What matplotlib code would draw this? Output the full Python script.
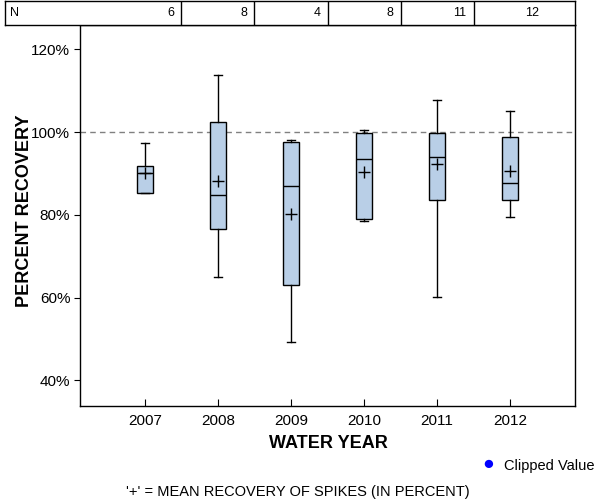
import matplotlib
matplotlib.use("Agg")
import matplotlib.pyplot as plt
from matplotlib.ticker import FuncFormatter

plt.rcParams['font.family'] = ['Liberation Sans', 'DejaVu Sans']

years = [2007, 2008, 2009, 2010, 2011, 2012]
counts = [6, 8, 4, 8, 11, 12]
whislo = [85.2, 65.1, 49.3, 78.6, 60.2, 79.6]
q1 = [85.2, 76.7, 63.1, 79.1, 83.7, 83.5]
med = [90.2, 84.7, 86.9, 93.5, 94.1, 87.6]
q3 = [91.7, 102.4, 97.5, 99.7, 99.9, 98.9]
whishi = [97.3, 113.8, 98.2, 100.6, 107.7, 105.2]
means = [90.1, 88.3, 80.3, 90.3, 92.3, 90.7]
yticks = [40, 60, 80, 100, 120]

W, H = 600, 500
fig = plt.figure(figsize=(6, 5), dpi=100)
ax = fig.add_axes([80 / W, 1 - 406 / H, 495 / W, 381 / H])

stats = []
for i, y in enumerate(years):
    stats.append(dict(label=str(y), whislo=whislo[i], q1=q1[i], med=med[i],
                      q3=q3[i], whishi=whishi[i], mean=means[i], fliers=[]))

ax.bxp(stats, positions=years, widths=0.21, capwidths=0.11, patch_artist=True,
       showmeans=True,
       boxprops=dict(facecolor='#b9cfe7', edgecolor='black', linewidth=1.0),
       medianprops=dict(color='black', linewidth=1.0),
       whiskerprops=dict(color='black', linewidth=1.0),
       capprops=dict(color='black', linewidth=1.0),
       meanprops=dict(marker='+', markeredgecolor='black', markersize=9, markeredgewidth=1.0))

ax.axhline(100, color='#808080', linestyle=(0, (4, 3)), linewidth=1.0, zorder=0)

ax.set_xlim(2006.11, 2012.89)
ax.set_ylim(33.8, 125.9)
ax.set_xticks(years)
ax.set_xticklabels([str(y) for y in years])
ax.set_yticks(yticks)
ax.yaxis.set_major_formatter(FuncFormatter(lambda v, p: f"{v:.0f}%"))
ax.tick_params(axis='y', direction='out', length=4, labelsize=11, pad=3)
ax.tick_params(axis='x', direction='in', length=5, labelsize=11, pad=6)
for s in ['left', 'bottom', 'right', 'top']:
    ax.spines[s].set_linewidth(1.0)

fig.text(328 / W, 1 - 443 / H, 'WATER YEAR', fontsize=13, fontweight='bold',
         ha='center', va='center')
fig.text(25 / W, 1 - 211 / H, 'PERCENT RECOVERY', fontsize=13, fontweight='bold',
         ha='center', va='center', rotation=90)

# N table on top
tax = fig.add_axes([5 / W, 1 - 25 / H, 570 / W, 24 / H])
tax.set_xlim(2006.11 - 75 / 73, 2012.89)
tax.set_ylim(0, 1)
tax.set_xticks([])
tax.set_yticks([])
for s in tax.spines.values():
    s.set_linewidth(1.0)
for y in years[:-1]:
    tax.axvline(y + 0.5, color='black', linewidth=1.0)
tax.text(2006.11 - 75 / 73 + 0.07, 0.5, 'N', ha='left', va='center', fontsize=9)
for y, n in zip(years, counts):
    tax.text(y + 0.5 - 0.1, 0.5, str(n), ha='right', va='center', fontsize=9)

# legend and footnote
fig.text(488 / W, 1 - 465 / H, '\u25CF', color='blue', fontsize=14, ha='center', va='center')
fig.text(504 / W, 1 - 466 / H, 'Clipped Value', fontsize=10.5, ha='left', va='center')
fig.text(298 / W, 1 - 492 / H, "'+' = MEAN RECOVERY OF SPIKES (IN PERCENT)", fontsize=10.5,
         ha='center', va='center')

fig.savefig('out.png', dpi=100)
